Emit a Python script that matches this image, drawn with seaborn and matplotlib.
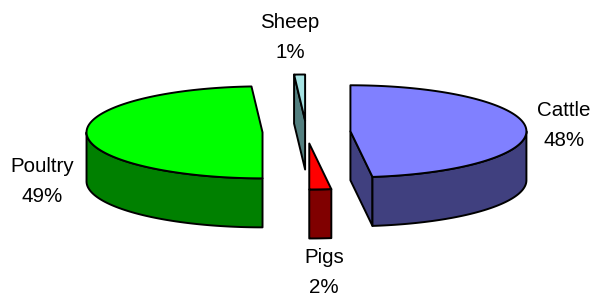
import numpy as np
import matplotlib
matplotlib.use("Agg")
import matplotlib.pyplot as plt
from matplotlib.patches import Polygon
import seaborn as sns

# ---- data ----
categories = ["Cattle", "Pigs", "Poultry", "Sheep"]
values = [48, 2, 49, 1]
top_colors = ["#8080FF", "#FF0000", "#00FF00", "#A6E3E3"]
side_colors = ["#40407F", "#800000", "#008000", "#537F7F"]

# ---- layout / style ----
W, H = 592, 298
CX, CY = 306.5, 132.0      # pie centre (pixels)
RA, RB = 176.0, 46.0       # ellipse radii
DEPTH = 49.0               # 3-D thickness
EXPLODE = 0.25             # radial offset as fraction of radius
LW = 1.4
label_pos = {               # x centre, baseline of name line
    "Cattle": (564, 116),
    "Pigs": (324, 263),
    "Poultry": (42, 172),
    "Sheep": (290, 28),
}
LINE_GAP = 30
FONT_SIZE = 14.8

sns.set_theme(style="white")
plt.rcParams["font.family"] = ["Liberation Sans", "DejaVu Sans"]

fig = plt.figure(figsize=(W / 100, H / 100), dpi=100)
ax = fig.add_axes([0, 0, 1, 1])
ax.set_xlim(0, W)
ax.set_ylim(H, 0)
ax.axis("off")


def pt(cx, cy, th):
    return (cx + RA * np.sin(th), cy - RB * np.cos(th))


total = float(sum(values))
start = 0.0
slices = []
for name, v, ct, cs in zip(categories, values, top_colors, side_colors):
    span = 2 * np.pi * v / total
    t1, t2 = start, start + span
    mid = (t1 + t2) / 2
    cx = CX + EXPLODE * RA * np.sin(mid)
    cy = CY - EXPLODE * RB * np.cos(mid)
    slices.append((name, v, ct, cs, t1, t2, cx, cy))
    start = t2

# draw back slices first (by depth of centre)
order = sorted(range(len(slices)), key=lambda i: slices[i][7])
for i in order:
    name, v, ct, cs, t1, t2, cx, cy = slices[i]
    # radial faces
    for te, normal in ((t1, t1 - np.pi / 2), (t2, t2 + np.pi / 2)):
        if np.cos(normal) < -1e-6:
            p = pt(cx, cy, te)
            poly = [(cx, cy), p, (p[0], p[1] + DEPTH), (cx, cy + DEPTH)]
            ax.add_patch(Polygon(poly, closed=True, fc=cs, ec="black",
                                 lw=LW, joinstyle="round"))
    # outer curved face (front half only)
    a1, a2 = max(t1, np.pi / 2), min(t2, 3 * np.pi / 2)
    if a2 > a1:
        th = np.linspace(a1, a2, 120)
        xs = cx + RA * np.sin(th)
        ys = cy - RB * np.cos(th)
        poly = list(zip(xs, ys)) + list(zip(xs[::-1], ys[::-1] + DEPTH))
        ax.add_patch(Polygon(poly, closed=True, fc=cs, ec="black",
                             lw=LW, joinstyle="round"))
    # top face
    th = np.linspace(t1, t2, 240)
    poly = [(cx, cy)] + [pt(cx, cy, t) for t in th]
    ax.add_patch(Polygon(poly, closed=True, fc=ct, ec="black",
                         lw=LW, joinstyle="round"))

# labels
for name, v in zip(categories, values):
    x, yb = label_pos[name]
    pct = f"{round(100 * v / total):d}%"
    ax.text(x, yb, name, ha="center", va="baseline", fontsize=FONT_SIZE,
            color="black")
    ax.text(x, yb + LINE_GAP, pct, ha="center", va="baseline",
            fontsize=FONT_SIZE, color="black")

fig.savefig("out.png", dpi=100, facecolor="white")
